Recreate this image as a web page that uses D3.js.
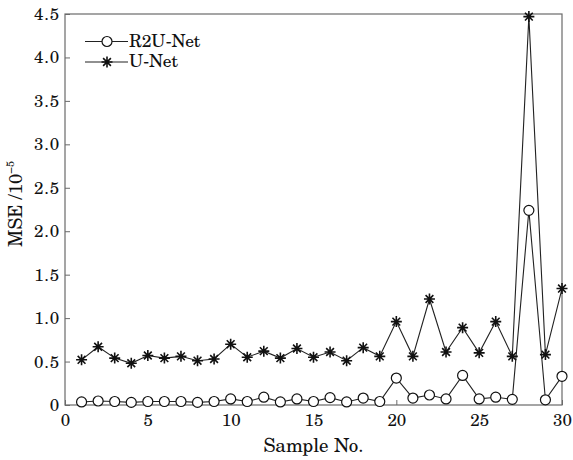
<!DOCTYPE html>
<html>
<head>
<meta charset="utf-8">
<script src="https://cdn.jsdelivr.net/npm/d3@7"></script>
<style>
  html, body { margin: 0; padding: 0; background: #fff; }
  svg { display: block; }
  text { font-family: "TeX Gyre Schola", "DejaVu Serif", "Liberation Serif", serif; fill: #111; }
</style>
</head>
<body>
<svg id="chart" width="573" height="460"></svg>
<script>
// Sample indices 1..30
const samples = [1,2,3,4,5,6,7,8,9,10,11,12,13,14,15,16,17,18,19,20,21,22,23,24,25,26,27,28,29,30];

// MSE (×10^-5) per sample
const r2unet = [0.035,0.046,0.04,0.03,0.04,0.04,0.04,0.03,0.04,0.07,0.04,0.09,0.035,0.07,0.04,0.085,0.035,0.08,0.04,0.31,0.08,0.115,0.07,0.34,0.07,0.09,0.065,2.24,0.06,0.33];
const unet   = [0.52,0.67,0.54,0.48,0.57,0.54,0.56,0.51,0.53,0.70,0.55,0.62,0.54,0.65,0.55,0.61,0.51,0.66,0.56,0.96,0.56,1.22,0.61,0.89,0.60,0.96,0.56,4.47,0.58,1.34];

const xTicks = [0,5,10,15,20,25,30];
const yTicks = [0,0.5,1.0,1.5,2.0,2.5,3.0,3.5,4.0,4.5];

const svg = d3.select("#chart");
const margin = {left: 65, top: 14, right: 11, bottom: 55};
const W = 573, H = 460;
const pw = W - margin.left - margin.right;
const ph = H - margin.top - margin.bottom;

const x = d3.scaleLinear().domain([0, 30]).range([margin.left, margin.left + pw]);
const y = d3.scaleLinear().domain([0, 4.5]).range([margin.top + ph, margin.top]);

const axisColor = "#6a6a6a";
const fontFamily = "TeX Gyre Schola, DejaVu Serif, Liberation Serif, serif";

// frame
svg.append("rect")
  .attr("x", x(0)).attr("y", y(4.5))
  .attr("width", x(30) - x(0)).attr("height", y(0) - y(4.5))
  .attr("fill", "none").attr("stroke", axisColor).attr("stroke-width", 1.2);

// bottom axis, ticks pointing inward
const xAxis = svg.append("g")
  .attr("transform", `translate(0,${y(0)})`)
  .call(d3.axisBottom(x).tickValues(xTicks).tickSizeInner(-5).tickSizeOuter(0).tickPadding(9).tickFormat(d3.format("d")));
xAxis.select(".domain").remove();
xAxis.selectAll("line").attr("stroke", axisColor);
xAxis.selectAll("text").attr("font-size", 17).attr("font-family", fontFamily).attr("fill", "#111");

// left axis, ticks pointing inward
const yAxis = svg.append("g")
  .attr("transform", `translate(${x(0)},0)`)
  .call(d3.axisLeft(y).tickValues(yTicks).tickSizeInner(-5).tickSizeOuter(0).tickPadding(5)
    .tickFormat(d => d === 0 ? "0" : d3.format(".1f")(d)));
yAxis.select(".domain").remove();
yAxis.selectAll("line").attr("stroke", axisColor);
yAxis.selectAll("text").attr("font-size", 17).attr("font-family", fontFamily)
  .attr("letter-spacing", 0.8).attr("fill", "#111");

// axis titles
svg.append("text")
  .attr("x", (x(0) + x(30)) / 2).attr("y", 452)
  .attr("text-anchor", "middle").attr("font-size", 19)
  .text("Sample No.");

const yt = svg.append("text")
  .attr("transform", `translate(22,204) rotate(-90)`)
  .attr("text-anchor", "middle").attr("font-size", 18.5);
yt.append("tspan").text("MSE /10");
yt.append("tspan").attr("font-size", 11).attr("dy", -8).text("−5");

// series
const line = d3.line().x((d, i) => x(samples[i])).y(d => y(d));

svg.append("path").datum(unet)
  .attr("d", line).attr("fill", "none").attr("stroke", "#222").attr("stroke-width", 1.1);
svg.append("path").datum(r2unet)
  .attr("d", line).attr("fill", "none").attr("stroke", "#222").attr("stroke-width", 1.1);

// asterisk marker
const starPath = (() => {
  const r = 5.5;
  let p = "";
  for (let k = 0; k < 4; k++) {
    const a = k * Math.PI / 4;
    const dx = r * Math.cos(a), dy = r * Math.sin(a);
    p += `M${-dx},${-dy}L${dx},${dy}`;
  }
  return p;
})();

svg.append("g").selectAll("path").data(unet).join("path")
  .attr("transform", (d, i) => `translate(${x(samples[i])},${y(d)})`)
  .attr("d", starPath).attr("stroke", "#111").attr("stroke-width", 1.6).attr("fill", "none");

svg.append("g").selectAll("circle").data(r2unet).join("circle")
  .attr("cx", (d, i) => x(samples[i])).attr("cy", d => y(d)).attr("r", 5)
  .attr("fill", "#fff").attr("stroke", "#111").attr("stroke-width", 1.2);

// legend
const lg = svg.append("g");
const legendItems = [
  {name: "R2U-Net", type: "circle", yy: 41.5},
  {name: "U-Net", type: "star", yy: 62}
];
legendItems.forEach(it => {
  lg.append("line").attr("x1", 85).attr("x2", 128).attr("y1", it.yy).attr("y2", it.yy)
    .attr("stroke", "#222").attr("stroke-width", 1.1);
  if (it.type === "circle") {
    lg.append("circle").attr("cx", 107).attr("cy", it.yy).attr("r", 5)
      .attr("fill", "#fff").attr("stroke", "#111").attr("stroke-width", 1.2);
  } else {
    lg.append("path").attr("transform", `translate(107,${it.yy})`).attr("d", starPath)
      .attr("stroke", "#111").attr("stroke-width", 1.6);
  }
  lg.append("text").attr("x", 129).attr("y", it.yy + 5).attr("font-size", 17.5).text(it.name);
});
</script>
</body>
</html>
